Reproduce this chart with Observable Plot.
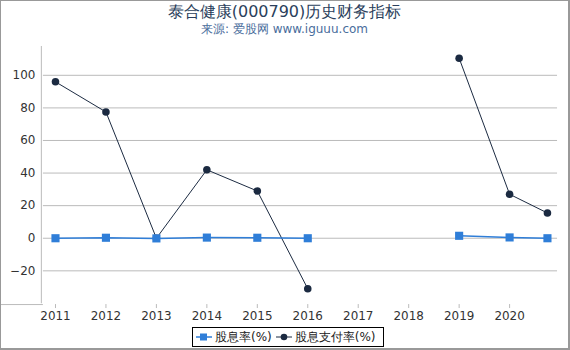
<!DOCTYPE html>
<html>
<head>
<meta charset="utf-8">
<script src="https://cdn.jsdelivr.net/npm/d3@7"></script>
<script src="https://cdn.jsdelivr.net/npm/@observablehq/plot@0.6"></script>
<style>
  html, body { margin: 0; padding: 0; background: #fff; }
  #wrap { position: relative; width: 570px; height: 350px; box-sizing: border-box; border: 1px solid #999; border-right-width: 2px; border-bottom-width: 2px; font-family: "DejaVu Sans", sans-serif; overflow: hidden; }
  #title { position: absolute; left: 0; width: 100%; top: 1px; text-align: center; font-size: 16px; color: #2b3f5c; }
  #sub { position: absolute; left: 0; width: 100%; top: 20px; text-align: center; font-size: 12px; color: #4a6d9c; }
  #chart { position: absolute; left: -1px; top: 37px; }
  #legend { position: absolute; left: 191px; top: 326px; height: 20px; box-sizing: border-box; border: 1px solid #000; padding: 0 3px; font-size: 12px; color: #222; display: flex; align-items: center; white-space: nowrap; }
  #legend span.item { display: inline-flex; align-items: center; margin-right: 4px; }
  #legend svg { margin-right: 3px; }
</style>
</head>
<body>
<div id="wrap">
  <div id="title">泰合健康(000790)历史财务指标</div>
  <div id="sub">来源: 爱股网 www.iguuu.com</div>
  <div id="chart"></div>
  <div id="legend"></div>
</div>
<script>
const periods = [2011, 2012, 2013, 2014, 2015, 2016, 2017, 2018, 2019, 2020, 2020.75];
const dividendYield = [0, 0.3, -0.1, 0.4, 0.3, 0, null, null, 1.5, 0.5, 0];
const payoutRatio = [96, 77.5, 0, 42, 29, -31, null, null, 110.5, 27, 15.5];
const xTicks = [2011, 2012, 2013, 2014, 2015, 2016, 2017, 2018, 2019, 2020];
const yTicks = [-20, 0, 20, 40, 60, 80, 100];
const seriesNames = ["股息率(%)", "股息支付率(%)"];
const colors = ["#2f7ed8", "#1b2a41"];

const yieldData = periods.map((p, i) => ({x: p, y: dividendYield[i]}));
const payoutData = periods.map((p, i) => ({x: p, y: payoutRatio[i]}));

const chart = Plot.plot({
  width: 570,
  height: 288,
  marginTop: 8,
  marginBottom: 21,
  marginLeft: 41,
  marginRight: 11,
  style: {fontFamily: "DejaVu Sans, sans-serif", fontSize: "12px", color: "#333", background: "transparent"},
  x: {domain: [2010.72, 2020.95], ticks: xTicks, tickFormat: d => String(d), tickSize: 4, label: null},
  y: {domain: [-40.7, 117.7], ticks: yTicks, tickSize: 0, tickPadding: 6, label: null},
  marks: [
    Plot.gridY(yTicks, {stroke: "#bbb", strokeOpacity: 1, x1: 2010.76, x2: 2020.95}),
    Plot.ruleX([2010.72], {stroke: "#bbb", y1: -40.2, y2: 117.7}),
    Plot.ruleY([-40.7], {stroke: "#bbb", x1: 2010.76}),
    Plot.axisX({ticks: xTicks, tickFormat: d => String(d), tickSize: 4, stroke: "#bbb", fill: "#333", tickPadding: 3}),
    Plot.axisY({ticks: yTicks, tickSize: 0, tickPadding: 6, fill: "#333"}),
    Plot.line(payoutData, {x: "x", y: "y", stroke: colors[1], strokeWidth: 1}),
    Plot.dot(payoutData, {x: "x", y: "y", r: 3.8, fill: colors[1], stroke: "none"}),
    Plot.line(yieldData, {x: "x", y: "y", stroke: colors[0], strokeWidth: 1.5}),
    Plot.dot(yieldData, {x: "x", y: "y", symbol: "square", r: 4.6, fill: colors[0], stroke: "none"})
  ]
});
document.getElementById("chart").appendChild(chart);

const legend = document.getElementById("legend");
seriesNames.forEach((name, i) => {
  const item = document.createElement("span");
  item.className = "item";
  const icon = i === 0
    ? `<svg width="16" height="10"><line x1="0" y1="5" x2="16" y2="5" stroke="${colors[0]}" stroke-width="1.5"/><rect x="4" y="1.5" width="7" height="7" fill="${colors[0]}"/></svg>`
    : `<svg width="16" height="10"><line x1="0" y1="5" x2="16" y2="5" stroke="${colors[1]}" stroke-width="1"/><circle cx="8" cy="5" r="3.3" fill="${colors[1]}"/></svg>`;
  item.innerHTML = icon + `<span>${name}</span>`;
  legend.appendChild(item);
});
</script>
</body>
</html>
